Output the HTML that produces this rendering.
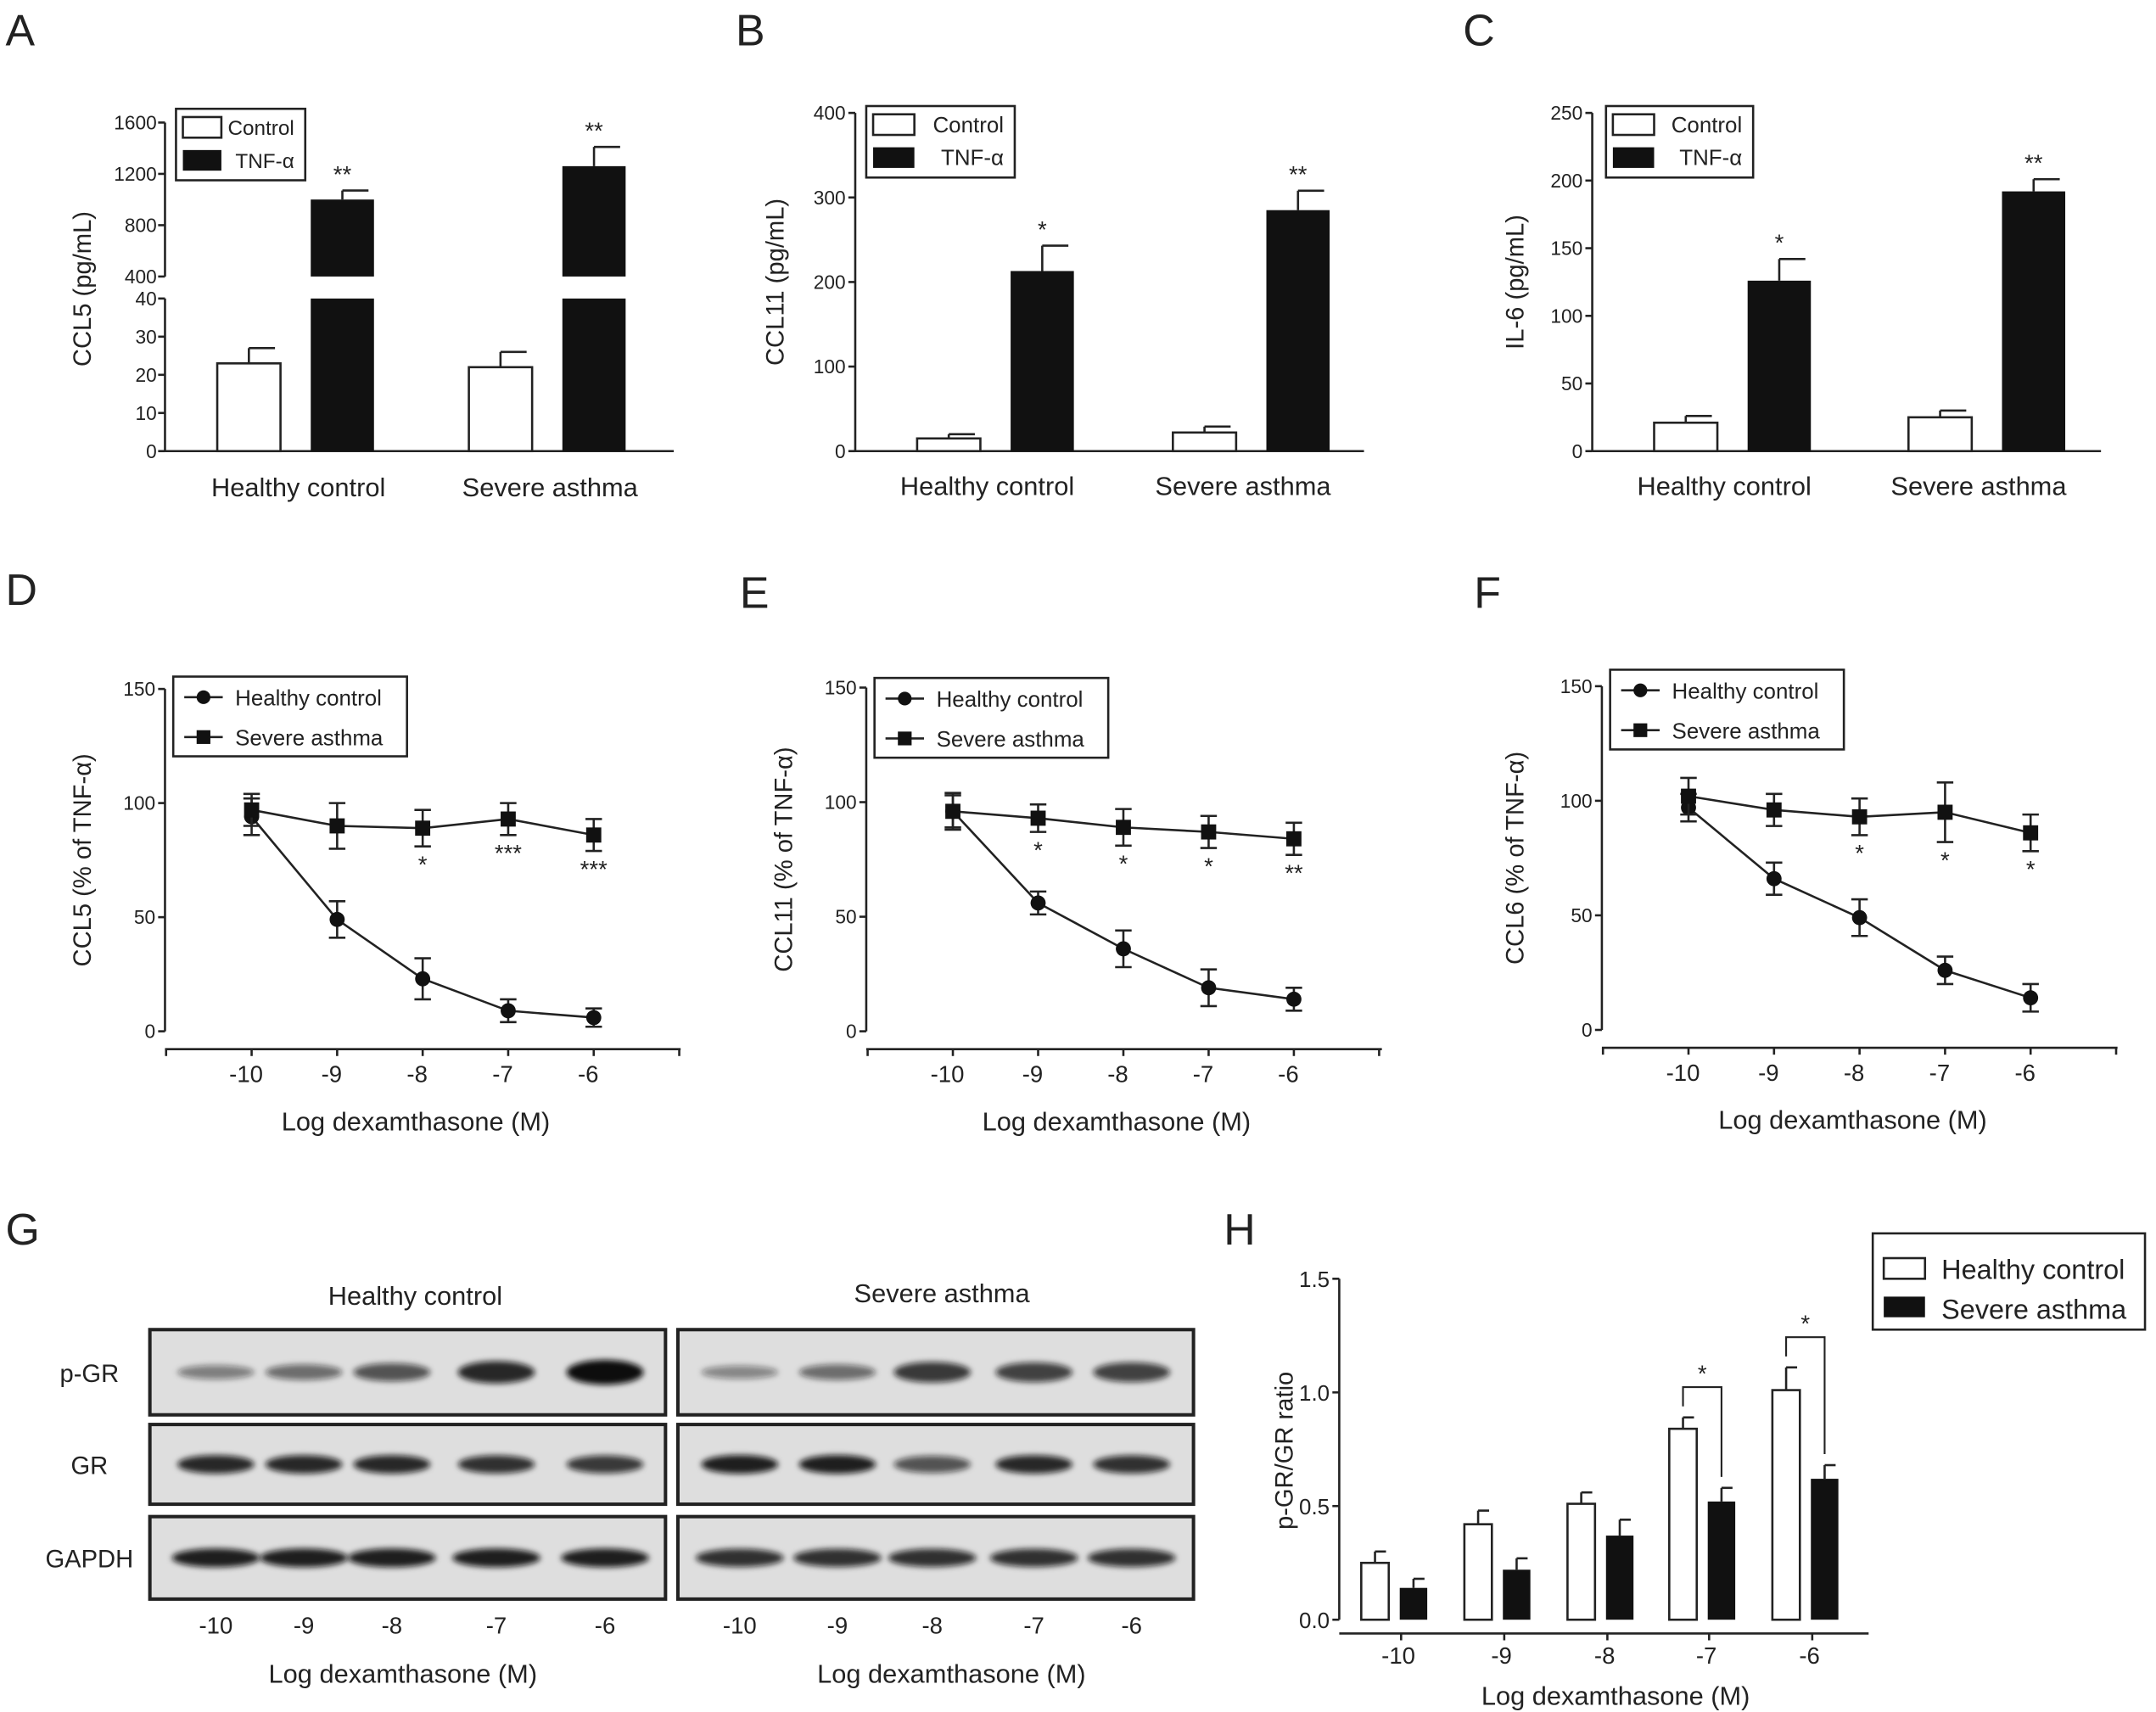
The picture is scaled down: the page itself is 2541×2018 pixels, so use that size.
<!DOCTYPE html>
<html><head><meta charset="utf-8">
<style>
html,body{margin:0;padding:0;background:#fff;}
svg{display:block;font-family:"Liberation Sans",Arial,sans-serif;}
</style></head>
<body>
<svg id="fig" width="2541" height="2018" viewBox="0 0 1568 1245" xmlns="http://www.w3.org/2000/svg">
<defs>
<filter id="blur" x="-50%" y="-50%" width="200%" height="200%"><feGaussianBlur stdDeviation="2.2"/></filter>
</defs>
</svg>
<script>
// ---- Panel A-C data ----
const barCategories = ['Healthy control','Severe asthma'];
const ccl5Control = [23, 22];
const ccl5ControlErr = [4, 4];
const ccl5Tnf = [1000, 1260];
const ccl5TnfErr = [70, 150];
const ccl5Stars = ['**','**'];
const ccl11Control = [15, 22];
const ccl11ControlErr = [5, 7];
const ccl11Tnf = [213, 285];
const ccl11TnfErr = [30, 23];
const ccl11Stars = ['*','**'];
const il6Control = [21, 25];
const il6ControlErr = [5, 5];
const il6Tnf = [126, 192];
const il6TnfErr = [16, 9];
const il6Stars = ['*','**'];
// ---- Panel D-F data ----
const doseLabels = ['-10','-9','-8','-7','-6'];
const dHealthy = [94, 49, 23, 9, 6];
const dHealthyErr = [8, 8, 9, 5, 4];
const dSevere = [97, 90, 89, 93, 86];
const dSevereErr = [7, 10, 8, 7, 7];
const dStars = ['', '', '*', '***', '***'];
const eHealthy = [96, 56, 36, 19, 14];
const eHealthyErr = [8, 5, 8, 8, 5];
const eSevere = [96, 93, 89, 87, 84];
const eSevereErr = [7, 6, 8, 7, 7];
const eStars = ['', '*', '*', '*', '**'];
const fHealthy = [97, 66, 49, 26, 14];
const fHealthyErr = [6, 7, 8, 6, 6];
const fSevere = [102, 96, 93, 95, 86];
const fSevereErr = [8, 7, 8, 13, 8];
const fStars = ['', '', '*', '*', '*'];
const lineTicks = [0, 50, 100, 150];
// ---- Panel H data ----
const hHealthy = [0.25, 0.42, 0.51, 0.84, 1.01];
const hHealthyErr = [0.05, 0.06, 0.05, 0.05, 0.10];
const hSevere = [0.14, 0.22, 0.37, 0.52, 0.62];
const hSevereErr = [0.04, 0.05, 0.07, 0.06, 0.06];
const hTicks = [0.0, 0.5, 1.0, 1.5];
// ---- Panel G band intensities ----
const pgrHealthy = [0.35, 0.45, 0.6, 0.85, 1.0];
const pgrSevere = [0.3, 0.45, 0.75, 0.7, 0.7];
const grHealthy = [0.85, 0.85, 0.85, 0.8, 0.75];
const grSevere = [0.9, 0.9, 0.6, 0.85, 0.8];
const gapHealthy = [0.9, 0.9, 0.9, 0.9, 0.9];
const gapSevere = [0.8, 0.8, 0.8, 0.8, 0.8];

const NS = 'http://www.w3.org/2000/svg';
const svg = document.getElementById('fig');
function el(tag, attrs, parent, text){
  const e = document.createElementNS(NS, tag);
  for (const k in attrs) e.setAttribute(k, attrs[k]);
  if (text !== undefined) e.textContent = text;
  (parent||svg).appendChild(e);
  return e;
}
function grp(name){
  const g = document.createElementNS(NS,'g');
  
  
  svg.appendChild(g);
  return g;
}
function txt(g, x, y, s, size, anchor, name, extra){
  const t = el('text', Object.assign({x:x, y:y, 'font-size':size, 'text-anchor':anchor||'middle', fill:'#222'}, extra||{}), g, s);
  
  
  return t;
}
const LW = 1.6;
function line(g,x1,y1,x2,y2,w){ return el('line',{x1:x1,y1:y1,x2:x2,y2:y2,stroke:'#222','stroke-width':w||LW},g); }

[['A',4,33],['B',535,33],['C',1064,33],['D',4,440],['E',538,442],['F',1072,442],['G',4,905],['H',890,905]].forEach(p=>{
  txt(svg,p[1],p[2],p[0],32,'start','panel-label-'+p[0].toLowerCase());
});

function barLegend(g, x, y, w, labels, fs){
  const lg = el('g',{},g);
  
  
  el('rect',{x:x,y:y,width:w,height:52,fill:'#fff',stroke:'#222','stroke-width':LW},lg);
  el('rect',{x:x+5,y:y+6,width:labels[2]||30,height:15,fill:'#fff',stroke:'#222','stroke-width':LW},lg);
  el('rect',{x:x+5,y:y+30,width:labels[2]||30,height:15,fill:'#111'},lg);
  txt(lg,x+w-8,y+19,labels[0],fs,'end','legend-entry-control');
  txt(lg,x+w-8,y+43,labels[1],fs,'end','legend-entry-tnf');
}

(function(){
  const g = grp('panel-a-ccl5');
  const ax = 120;
  const yLow = v => 328 - v*(111/40);
  const yUp = v => 201 - (v-400)*(112/1200);
  line(g,ax,217,ax,328); line(g,ax,89,ax,201);
  [0,10,20,30,40].forEach(v=>{line(g,ax-5,yLow(v),ax,yLow(v)); txt(g,ax-6,yLow(v)+5,String(v),14,'end','y-tick-label');});
  [400,800,1200,1600].forEach(v=>{line(g,ax-5,yUp(v),ax,yUp(v)); txt(g,ax-6,yUp(v)+5,String(v),14,'end','y-tick-label');});
  line(g,ax,328,490,328);
  txt(g,66,210,'CCL5 (pg/mL)',18,'middle','y-axis-title',{transform:'rotate(-90 66 210)'});
  const cx = [217,400];
  for(let i=0;i<2;i++){
    const c = cx[i];
    const xc = c-59, xt = c+9, w = 46;
    const ry = yLow(ccl5Control[i]);
    const b1 = el('rect',{x:xc,y:ry,width:w,height:328-ry,fill:'#fff',stroke:'#222','stroke-width':LW},g);
    
    
    const ey = yLow(ccl5Control[i]+ccl5ControlErr[i]);
    line(g,xc+w/2,ry,xc+w/2,ey); line(g,xc+w/2,ey,xc+w-4,ey);
    const ty = yUp(ccl5Tnf[i]);
    const b2 = el('rect',{x:xt,y:ty,width:w,height:201-ty,fill:'#111'},g);
    
    
    const b3 = el('rect',{x:xt,y:217,width:w,height:111,fill:'#111'},g);
    
    
    const tey = yUp(ccl5Tnf[i]+ccl5TnfErr[i]);
    line(g,xt+w/2,ty,xt+w/2,tey); line(g,xt+w/2,tey,xt+w-4,tey);
    txt(g,xt+w/2,tey-6,ccl5Stars[i],17,'middle','significance-star');
    txt(g,c,361,barCategories[i],19,'middle','x-category-label');
  }
  barLegend(g,128,79,94,['Control','TNF-α',28],15);
})();

function barPanel(name, ax, yTop, maxV, ticks, ylabel, ylx, cx, ctl, ctlE, tnf, tnfE, stars, legX, legW){
  const g = grp(name);
  const y = v => 328 - v*((328-yTop)/maxV);
  line(g,ax,yTop,ax,328); line(g,ax,328,ax+370,328);
  ticks.forEach(v=>{line(g,ax-5,y(v),ax,y(v)); txt(g,ax-7,y(v)+5,String(v),14,'end','y-tick-label');});
  txt(g,ylx,205,ylabel,18,'middle','y-axis-title',{transform:'rotate(-90 '+ylx+' 205)'});
  for(let i=0;i<2;i++){
    const c = cx[i], w=46;
    const xc = c-51, xt = c+17;
    const ry = y(ctl[i]);
    const b1 = el('rect',{x:xc,y:ry,width:w,height:328-ry,fill:'#fff',stroke:'#222','stroke-width':LW},g);
    
    
    const ey = y(ctl[i]+ctlE[i]);
    line(g,xc+w/2,ry,xc+w/2,ey); line(g,xc+w/2,ey,xc+w-4,ey);
    const ty = y(tnf[i]);
    const b2 = el('rect',{x:xt,y:ty,width:w,height:328-ty,fill:'#111'},g);
    
    
    const tey = y(tnf[i]+tnfE[i]);
    line(g,xt+w/2,ty,xt+w/2,tey); line(g,xt+w/2,tey,xt+w-4,tey);
    txt(g,xt+w/2,tey-6,stars[i],17,'middle','significance-star');
    txt(g,c,360,barCategories[i],19,'middle','x-category-label');
  }
  barLegend(g,legX,77,legW,['Control','TNF-α',30],16);
}
barPanel('panel-b-ccl11',622,82,400,[0,100,200,300,400],'CCL11 (pg/mL)',570,[718,904],ccl11Control,ccl11ControlErr,ccl11Tnf,ccl11TnfErr,ccl11Stars,630,108);
barPanel('panel-c-il6',1158,82,250,[0,50,100,150,200,250],'IL-6 (pg/mL)',1108,[1254,1439],il6Control,il6ControlErr,il6Tnf,il6TnfErr,il6Stars,1168,107);

function linePanel(name, ax, x0, dx, y0, y150, ylabel, ylx, H, HE, S, SE, stars, legX, legY){
  const g = grp(name);
  const y = v => y0 - v*((y0-y150)/150);
  const x = i => x0 + i*dx;
  line(g,ax,y150,ax,y0);
  lineTicks.forEach(v=>{line(g,ax-5,y(v),ax,y(v)); txt(g,ax-7,y(v)+5,String(v),14,'end','y-tick-label');});
  const xa = y0+13;
  line(g,ax,xa,ax+375,xa);
  for(let i=-1;i<=5;i++){ const tx = x0+i*dx; line(g,tx,xa,tx,xa+5); }
  doseLabels.forEach((l,i)=>txt(g,x(i)-4,xa+24,l,17,'middle','x-tick-label'));
  txt(g,x(2)-5,y0+72,'Log dexamthasone (M)',19,'middle','x-axis-title');
  txt(g,ylx,y(75),ylabel,18,'middle','y-axis-title',{transform:'rotate(-90 '+ylx+' '+y(75)+')'});
  function series(vals, errs, marker, sname){
    const sg = el('g',{},g);
    
    
    const pts = vals.map((v,i)=>x(i)+','+y(v)).join(' ');
    el('polyline',{points:pts,fill:'none',stroke:'#222','stroke-width':LW},sg);
    vals.forEach((v,i)=>{
      const t=y(v+errs[i]), b=y(v-errs[i]);
      line(sg,x(i),t,x(i),b); line(sg,x(i)-6,t,x(i)+6,t); line(sg,x(i)-6,b,x(i)+6,b);
      let m;
      if(marker==='c') m = el('circle',{cx:x(i),cy:y(v),r:5.5,fill:'#111'},sg);
      else m = el('rect',{x:x(i)-5.5,y:y(v)-5.5,width:11,height:11,fill:'#111'},sg);
      
      
    });
  }
  series(H,HE,'c','healthy');
  series(S,SE,'s','severe');
  stars.forEach((s,i)=>{ if(s) txt(g,x(i),y(S[i]-SE[i])+19,s,17,'middle','significance-star'); });
  const lg = el('g',{},g);
  
  
  el('rect',{x:legX,y:legY,width:170,height:58,fill:'#fff',stroke:'#222','stroke-width':LW},lg);
  line(lg,legX+8,legY+15,legX+36,legY+15); el('circle',{cx:legX+22,cy:legY+15,r:5,fill:'#111'},lg);
  line(lg,legX+8,legY+44,legX+36,legY+44); el('rect',{x:legX+17,y:legY+39,width:10,height:10,fill:'#111'},lg);
  txt(lg,legX+45,legY+21,'Healthy control',16,'start','legend-entry-healthy');
  txt(lg,legX+45,legY+50,'Severe asthma',16,'start','legend-entry-severe');
}
linePanel('panel-d-ccl5-dex',120,183,62.2,750,501,'CCL5 (% of TNF-α)',66,dHealthy,dHealthyErr,dSevere,dSevereErr,dStars,126,492);
linePanel('panel-e-ccl11-dex',630,693,62,750,500,'CCL11 (% of TNF-α)',576,eHealthy,eHealthyErr,eSevere,eSevereErr,eStars,636,493);
linePanel('panel-f-ccl6-dex',1165,1228,62.2,749,499,'CCL6 (% of TNF-α)',1108,fHealthy,fHealthyErr,fSevere,fSevereErr,fStars,1171,487);

(function(){
  const g = grp('panel-g-western-blot');
  const rows = [[967,62,'p-GR',[pgrHealthy,pgrSevere]],[1036,58,'GR',[grHealthy,grSevere]],[1103,60,'GAPDH',[gapHealthy,gapSevere]]];
  const boxes = [[109,375,[157,221,285,361,440]],[493,375,[538,609,678,752,823]]];
  rows.forEach((r,ri)=>{
    txt(g,65,r[0]+r[1]/2+7,r[2],18,'middle','blot-row-label');
    boxes.forEach((b,bi)=>{
      const bg = el('g',{},g);
      
      
      el('rect',{x:b[0],y:r[0],width:b[1],height:r[1],fill:'#dedede'},bg);
      const vals = r[3][bi];
      vals.forEach((v,i)=>{
        const cy = r[0]+r[1]/2;
        const bw = ri===2?32:28, bh = ri===0? 3+6*v : 5+2*v;
        const e = el('ellipse',{cx:b[2][i],cy:cy,rx:bw,ry:bh,fill:'#111','fill-opacity':Math.min(1,0.2+0.8*v),filter:'url(#blur)'},bg);
        
        
      });
      el('rect',{x:b[0],y:r[0],width:b[1],height:r[1],fill:'none',stroke:'#222','stroke-width':2.5},bg);
    });
  });
  txt(g,302,949,'Healthy control',19,'middle','blot-group-label');
  txt(g,685,947,'Severe asthma',19,'middle','blot-group-label');
  boxes.forEach(b=>b[2].forEach((x,i)=>txt(g,x,1188,doseLabels[i],17,'middle','x-tick-label')));
  txt(g,293,1224,'Log dexamthasone (M)',19,'middle','x-axis-title');
  txt(g,692,1224,'Log dexamthasone (M)',19,'middle','x-axis-title');
})();

(function(){
  const g = grp('panel-h-pgr-ratio');
  const ax = 974, y0 = 1178, yTop = 930;
  const y = v => y0 - v*((y0-yTop)/1.5);
  const cx = [1019,1094,1169,1243,1318];
  line(g,ax,yTop,ax,y0); line(g,ax,y0+10,ax+385,y0+10);
  hTicks.forEach(v=>{line(g,ax-5,y(v),ax,y(v)); txt(g,ax-7,y(v)+6,v.toFixed(1),16,'end','y-tick-label');});
  cx.forEach((c,i)=>{line(g,c,y0+10,c,y0+15); txt(g,c-2,y0+32,doseLabels[i],17,'middle','x-tick-label');});
  txt(g,1175,1240,'Log dexamthasone (M)',19,'middle','x-axis-title');
  txt(g,940,1055,'p-GR/GR ratio',18,'middle','y-axis-title',{transform:'rotate(-90 940 1055)'});
  const w = 20;
  cx.forEach((c,i)=>{
    const x1 = c-29, x2 = c-1;
    const t1 = y(hHealthy[i]);
    const r1 = el('rect',{x:x1,y:t1,width:w,height:y0-t1,fill:'#fff',stroke:'#222','stroke-width':LW},g);
    
    
    const e1 = y(hHealthy[i]+hHealthyErr[i]);
    line(g,x1+w/2,t1,x1+w/2,e1); line(g,x1+w/2,e1,x1+w-2,e1);
    const t2 = y(hSevere[i]);
    const r2 = el('rect',{x:x2,y:t2,width:w,height:y0-t2,fill:'#111'},g);
    
    
    const e2 = y(hSevere[i]+hSevereErr[i]);
    line(g,x2+w/2,t2,x2+w/2,e2); line(g,x2+w/2,e2,x2+w-2,e2);
    if(i>=3){
      const top = e1-22;
      el('polyline',{points:(x1+w/2)+','+(e1-8)+' '+(x1+w/2)+','+top+' '+(x2+w/2)+','+top+' '+(x2+w/2)+','+(e2-8),fill:'none',stroke:'#222','stroke-width':1.3},g);
      txt(g,(x1+x2+w)/2,top-4,'*',17,'middle','significance-star');
    }
  });
  const lg = el('g',{},g);
  
  
  el('rect',{x:1362,y:897,width:198,height:70,fill:'#fff',stroke:'#222','stroke-width':LW},lg);
  el('rect',{x:1370,y:915,width:30,height:15,fill:'#fff',stroke:'#222','stroke-width':LW},lg);
  el('rect',{x:1370,y:943,width:30,height:15,fill:'#111'},lg);
  txt(lg,1412,930,'Healthy control',20,'start','legend-entry-healthy');
  txt(lg,1412,959,'Severe asthma',20,'start','legend-entry-severe');
})();
</script>
</body></html>
